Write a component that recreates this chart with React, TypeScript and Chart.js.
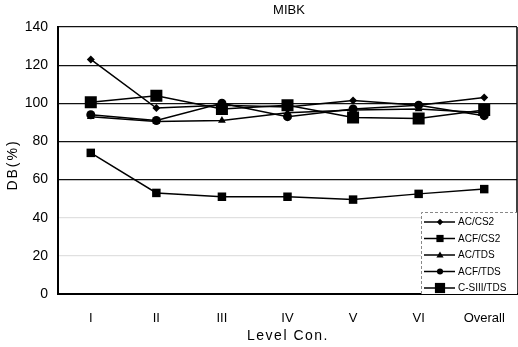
import React, { useEffect, useRef } from "react";
import { Chart, registerables } from "chart.js";

Chart.register(...registerables);

const categories = ["I", "II", "III", "IV", "V", "VI", "Overall"];
const acCs2 = [123, 97.5, 99, 98, 101.5, 99, 103];
const acfCs2 = [74, 53, 51, 51, 49.5, 52.5, 55];
const acTds = [93, 90.5, 91, 95, 96.5, 97, 95];
const acfTds = [94, 91, 100, 93, 97, 99, 93.5];
const cSiiiTds = [100.5, 104, 97, 99, 92.5, 92, 96.5];
const seriesNames = ["AC/CS2", "ACF/CS2", "AC/TDS", "ACF/TDS", "C-SIII/TDS"];
const yTicks = [0, 20, 40, 60, 80, 100, 120, 140];
const chartTitle = "MIBK";
const yTitle = "DB(%)";
const xTitle = "Level Con.";

const FONT = "'Liberation Sans', Arial, sans-serif";
const PLOT_RIGHT = 517;

const fixRightPlugin = {
  id: "fixRight",
  afterLayout(chart: any) {
    const ca = chart.chartArea;
    if (Math.abs(ca.right - PLOT_RIGHT) > 0.5) {
      ca.right = PLOT_RIGHT;
      ca.width = PLOT_RIGHT - ca.left;
      const xs = chart.scales.x;
      xs.right = PLOT_RIGHT;
      xs.width = PLOT_RIGHT - xs.left;
      xs.configure();
      const ys = chart.scales.y;
      ys.configure();
    }
  },
};

const framePlugin = {
  id: "frame",
  afterDraw(chart: any) {
    const { ctx, chartArea } = chart;
    ctx.save();
    // title
    ctx.fillStyle = "#000";
    ctx.font = `13px ${FONT}`;
    ctx.textAlign = "center";
    ctx.textBaseline = "middle";
    ctx.fillText(chartTitle, 289, 10);
    // axis titles
    ctx.font = `14px ${FONT}`;
    (ctx as any).letterSpacing = "1.5px";
    ctx.fillText(xTitle, 288, 336);
    ctx.save();
    ctx.translate(13, 165);
    ctx.rotate(-Math.PI / 2);
    (ctx as any).letterSpacing = "2px";
    ctx.fillText(yTitle, 0, 0);
    ctx.restore();
    (ctx as any).letterSpacing = "0px";
    // frame
    ctx.strokeStyle = "#000";
    ctx.lineWidth = 1.5;
    ctx.beginPath();
    ctx.moveTo(chartArea.right, chartArea.top);
    ctx.lineTo(chartArea.right, chartArea.bottom);
    ctx.stroke();

    // legend box
    const bx = 421;
    const by = 212;
    const bw = chartArea.right - bx;
    const bh = chartArea.bottom - by;
    ctx.fillStyle = "#fff";
    ctx.fillRect(bx, by, bw, bh);
    ctx.strokeStyle = "#888";
    ctx.lineWidth = 1;
    ctx.setLineDash([3, 2]);
    ctx.beginPath();
    ctx.moveTo(bx + 0.5, chartArea.bottom);
    ctx.lineTo(bx + 0.5, by + 0.5);
    ctx.lineTo(chartArea.right, by + 0.5);
    ctx.stroke();
    ctx.setLineDash([]);

    const ds = chart.data.datasets;
    ds.forEach((d: any, i: number) => {
      const y = by + 10 + i * 16.5;
      ctx.strokeStyle = "#000";
      ctx.lineWidth = 1.5;
      ctx.beginPath();
      ctx.moveTo(bx + 3, y);
      ctx.lineTo(bx + 34, y);
      ctx.stroke();
      ctx.fillStyle = "#000";
      const r = d.pointRadius * 0.8;
      const cx = bx + 19;
      ctx.beginPath();
      if (d.pointStyle === "rectRot") {
        ctx.moveTo(cx, y - r);
        ctx.lineTo(cx + r, y);
        ctx.lineTo(cx, y + r);
        ctx.lineTo(cx - r, y);
        ctx.closePath();
      } else if (d.pointStyle === "rect") {
        ctx.rect(cx - r * 0.75, y - r * 0.75, r * 1.5, r * 1.5);
      } else if (d.pointStyle === "triangle") {
        ctx.moveTo(cx, y - r);
        ctx.lineTo(cx + r, y + r * 0.7);
        ctx.lineTo(cx - r, y + r * 0.7);
        ctx.closePath();
      } else {
        ctx.arc(cx, y, r * 0.85, 0, Math.PI * 2);
      }
      ctx.fill();
      ctx.font = `10px ${FONT}`;
      ctx.textAlign = "left";
      ctx.textBaseline = "middle";
      ctx.fillText(d.label, bx + 37, y + 0.5);
    });
    ctx.restore();
  },
};

export default function App() {
  const ref = useRef<HTMLCanvasElement>(null);
  useEffect(() => {
    if (!ref.current) return;
    const mk = (label: string, data: number[], style: string, radius: number) => ({
      label,
      data,
      borderColor: "#000",
      backgroundColor: "#000",
      borderWidth: 1.5,
      pointStyle: style,
      pointRadius: radius,
      pointBorderWidth: 0,
      pointBackgroundColor: "#000",
      tension: 0,
    });
    const chart: any = new Chart(ref.current, {
      type: "line",
      data: {
        labels: categories,
        datasets: [
          mk(seriesNames[0], acCs2, "rectRot", 4),
          mk(seriesNames[1], acfCs2, "rect", 6),
          mk(seriesNames[2], acTds, "triangle", 4.5),
          mk(seriesNames[3], acfTds, "circle", 4.5),
          mk(seriesNames[4], cSiiiTds, "rect", 8.5),
        ] as any,
      },
      options: {
        animation: false,
        responsive: false,
        maintainAspectRatio: false,
        layout: { padding: { top: 27, right: 1, left: 0, bottom: 0 } },
        plugins: {
          legend: { display: false },
          title: { display: false },
          tooltip: { enabled: false },
        },
        scales: {
          x: {
            type: "category",
            offset: true,
            grid: {
              display: true,
              drawOnChartArea: false,
              drawTicks: true,
              tickLength: 17,
              tickColor: "rgba(0,0,0,0)",
              color: "rgba(0,0,0,0)",
            },
            border: { color: "#000", width: 2 },
            ticks: {
              color: "#000",
              padding: 0,
              font: { family: FONT, size: 13 },
              maxRotation: 0,
            },
            afterFit: (s: any) => {
              s.height = 53;
              s.paddingLeft = 0;
              s.paddingRight = 0;
            },
          },
          y: {
            min: 0,
            max: 140,
            afterBuildTicks: (s: any) => {
              s.ticks = yTicks.map((v) => ({ value: v }));
            },
            grid: {
              drawTicks: false,
              lineWidth: 1.2,
              color: (c: any) =>
                c.tick && (c.tick.value === 20 || c.tick.value === 40)
                  ? "rgba(0,0,0,0.12)"
                  : c.tick && c.tick.value === 0
                  ? "rgba(0,0,0,0)"
                  : "#111",
            },
            border: { color: "#000", width: 2 },
            ticks: {
              color: "#000",
              padding: 10,
              font: { family: FONT, size: 14 },
            },
            afterFit: (s: any) => {
              s.width = 58;
            },
          },
        },
      },
      plugins: [fixRightPlugin, framePlugin],
    } as any);
    return () => chart.destroy();
  }, []);
  return (
    <div style={{ position: "fixed", left: 0, top: 0, width: 518, height: 347, background: "#fff" }}>
      <canvas ref={ref} width={518} height={347} />
    </div>
  );
}
